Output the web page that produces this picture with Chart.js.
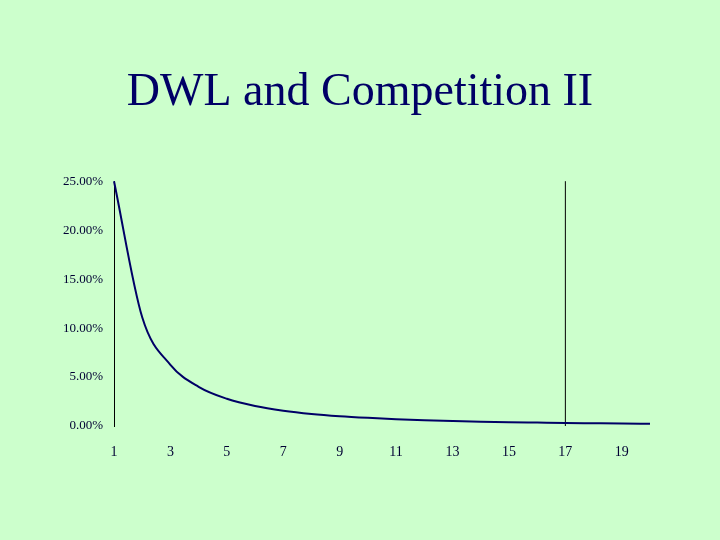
<!DOCTYPE html>
<html>
<head>
<meta charset="utf-8">
<script src="https://cdn.jsdelivr.net/npm/chart.js@4"></script>
<style>
  html, body { margin: 0; padding: 0; background: #CCFFCC; }
  #wrap { position: absolute; left: 0; top: 0; width: 720px; height: 540px; }
</style>
</head>
<body>
<div id="wrap"><canvas id="c" width="720" height="540"></canvas></div>
<script>
const titleText = "DWL and Competition II";
const firms = [1, 2, 3, 4, 5, 6, 7, 8, 9, 10, 11, 12, 13, 14, 15, 16, 17, 18, 19, 20];
const dwlPercent = [25.0, 11.1, 6.25, 4.0, 2.78, 2.04, 1.56, 1.23, 1.0, 0.83, 0.69, 0.59, 0.51, 0.44, 0.39, 0.35, 0.31, 0.28, 0.25, 0.23];
const markerX = [17, 17];
const markerY = [0, 25];
const xTicks = [1, 3, 5, 7, 9, 11, 13, 15, 17, 19];
const yTicks = [0, 5, 10, 15, 20, 25];

const curve = firms.map((f, i) => ({ x: f, y: dwlPercent[i] }));
const marker = markerX.map((f, i) => ({ x: f, y: markerY[i] }));

new Chart(document.getElementById('c'), {
  type: 'line',
  data: {
    datasets: [
      {
        data: curve,
        borderColor: '#000066',
        borderWidth: 2,
        pointRadius: 0,
        cubicInterpolationMode: 'monotone',
        fill: false,
        clip: false
      },
      {
        data: marker,
        borderColor: '#000000',
        borderWidth: 1,
        pointRadius: 0,
        fill: false,
        clip: false
      }
    ]
  },
  options: {
    responsive: false,
    animation: false,
    devicePixelRatio: 1,
    layout: { padding: { left: 0, right: 0, top: 0, bottom: 74 } },
    plugins: {
      legend: { display: false },
      tooltip: { enabled: false },
      title: {
        display: true,
        text: titleText,
        color: '#000066',
        font: { family: 'Liberation Serif', size: 46, weight: 'normal', lineHeight: 1.2 },
        padding: { top: 65, bottom: 61 }
      }
    },
    scales: {
      x: {
        type: 'linear',
        min: 1,
        max: 20,
        grid: { display: false },
        border: { display: false },
        afterBuildTicks: (s) => { s.ticks = xTicks.map(v => ({ value: v })); },
        afterFit: (s) => { s.height = 40; },
        ticks: {
          color: '#000033',
          padding: 10,
          maxRotation: 0,
          autoSkip: false,
          font: { family: 'Liberation Serif', size: 14 },
          callback: (v) => String(v)
        }
      },
      y: {
        min: 0,
        max: 25,
        grid: { display: false },
        border: { display: true, color: '#000000', width: 1 },
        afterBuildTicks: (s) => { s.ticks = yTicks.map(v => ({ value: v })); },
        afterFit: (s) => { s.width = 114; },
        ticks: {
          color: '#000033',
          padding: 3,
          autoSkip: false,
          font: { family: 'Liberation Serif', size: 13 },
          callback: (v) => Number(v).toFixed(2) + '%'
        }
      },
      spacer: {
        type: 'linear',
        position: 'right',
        display: true,
        grid: { display: false },
        border: { display: false },
        ticks: { display: false },
        afterFit: (s) => { s.width = 70; }
      }
    }
  }
});
</script>
</body>
</html>
